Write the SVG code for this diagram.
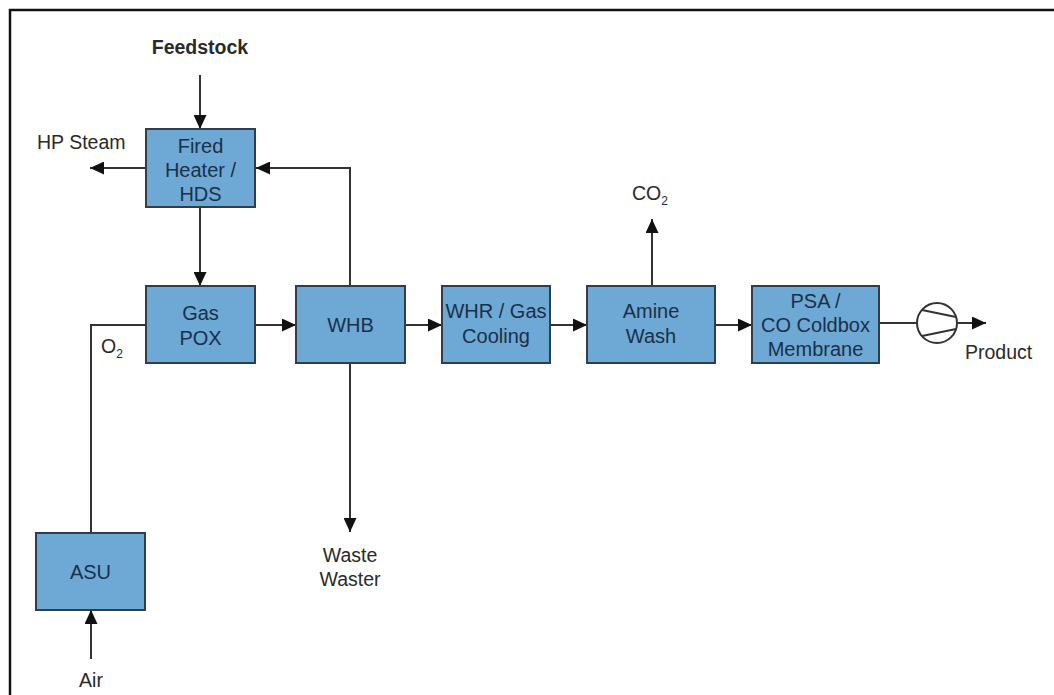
<svg xmlns="http://www.w3.org/2000/svg" width="1054" height="695" viewBox="0 0 1054 695">
  <defs>
    <style>
      .box { fill: #6ea8d5; stroke: #2f3d4c; stroke-width: 2; }
      .bt { font-family: "Liberation Sans", Arial, sans-serif; font-size: 20px; fill: #1a3048; text-anchor: middle; }
      .lb { font-family: "Liberation Sans", Arial, sans-serif; font-size: 19.5px; fill: #2a2a2a; }
      .sub { font-size: 12px; }
      .ln { fill: none; stroke: #333333; stroke-width: 2; }
      .arr { marker-end: url(#ah); }
    </style>
    <marker id="ah" markerUnits="userSpaceOnUse" markerWidth="15" markerHeight="13" refX="14" refY="6.5" orient="auto">
      <path d="M0,0 L14,6.5 L0,13 z" fill="#111111"/>
    </marker>
  </defs>
  <rect x="0" y="0" width="1054" height="695" fill="#ffffff"/>
  <path d="M10,695 V10 H1054" fill="none" stroke="#111111" stroke-width="2.5"/>

  <g id="connectors">
    <path class="ln arr" d="M200,75 V129"/>
    <path class="ln arr" d="M146,168 H90"/>
    <path class="ln arr" d="M350,286 V168 H256"/>
    <path class="ln arr" d="M200,207 V286"/>
    <path class="ln" d="M146,325 H91 V533"/>
    <path class="ln arr" d="M255,325 H296"/>
    <path class="ln arr" d="M405,325 H442"/>
    <path class="ln arr" d="M350,363 V532"/>
    <path class="ln arr" d="M550,325 H587"/>
    <path class="ln arr" d="M652,286 V219"/>
    <path class="ln arr" d="M715,325 H752"/>
    <path class="ln" d="M879,323 H917"/>
    <path class="ln arr" d="M957,323 H986"/>
    <path class="ln arr" d="M91,659 V610"/>
  </g>

  <g id="fired-heater">
    <rect class="box" x="146" y="129" width="109" height="78"/>
    <text class="bt" x="200.5" y="153">Fired</text>
    <text class="bt" x="200.5" y="177">Heater /</text>
    <text class="bt" x="200.5" y="201">HDS</text>
  </g>
  <g id="gas-pox">
    <rect class="box" x="146" y="286" width="109" height="77"/>
    <text class="bt" x="200.5" y="320">Gas</text>
    <text class="bt" x="200.5" y="345">POX</text>
  </g>
  <g id="whb">
    <rect class="box" x="296" y="286" width="109" height="77"/>
    <text class="bt" x="350.5" y="332">WHB</text>
  </g>
  <g id="whr">
    <rect class="box" x="442" y="286" width="108" height="77"/>
    <text class="bt" x="496" y="318">WHR / Gas</text>
    <text class="bt" x="496" y="343">Cooling</text>
  </g>
  <g id="amine">
    <rect class="box" x="587" y="286" width="128" height="77"/>
    <text class="bt" x="651" y="318">Amine</text>
    <text class="bt" x="651" y="343">Wash</text>
  </g>
  <g id="psa">
    <rect class="box" x="752" y="286" width="127" height="77"/>
    <text class="bt" x="815.5" y="308">PSA /</text>
    <text class="bt" x="815.5" y="332">CO Coldbox</text>
    <text class="bt" x="815.5" y="356">Membrane</text>
  </g>
  <g id="asu">
    <rect class="box" x="36" y="533" width="109" height="77"/>
    <text class="bt" x="90.5" y="579">ASU</text>
  </g>
  <g id="compressor">
    <circle cx="937" cy="323" r="20" fill="#ffffff" stroke="#333333" stroke-width="2"/>
    <path class="ln" d="M922,310 L956,317 M922,336 L956,329" stroke-width="1.6"/>
  </g>

  <g id="labels">
    <text class="lb" x="200" y="54" text-anchor="middle" font-weight="bold">Feedstock</text>
    <text class="lb" x="37" y="149">HP Steam</text>
    <text class="lb" x="101" y="353">O<tspan class="sub" dy="5">2</tspan></text>
    <text class="lb" x="632" y="200">CO<tspan class="sub" dy="5">2</tspan></text>
    <text class="lb" x="965" y="359">Product</text>
    <text class="lb" x="350" y="562" text-anchor="middle">Waste</text>
    <text class="lb" x="350" y="586" text-anchor="middle">Waster</text>
    <text class="lb" x="91" y="687" text-anchor="middle">Air</text>
  </g>
</svg>
